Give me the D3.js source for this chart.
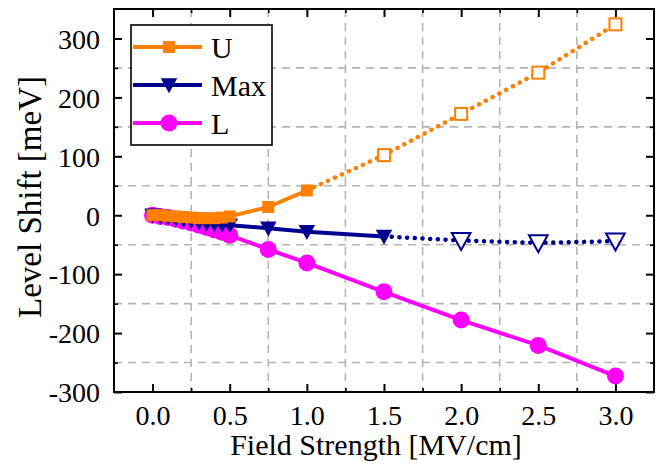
<!DOCTYPE html>
<html>
<head>
<meta charset="utf-8">
<script src="https://cdn.jsdelivr.net/npm/d3@7"></script>
<style>
  html, body { margin: 0; padding: 0; background: #fff; }
  svg { display: block; }
  text { font-family: "Liberation Serif", "Times New Roman", serif; fill: #000; }
</style>
</head>
<body>
<svg id="chart" width="662" height="474"></svg>
<script>
// ---- data ----
const fieldStrength = [0, 0.05, 0.1, 0.15, 0.2, 0.25, 0.3, 0.35, 0.4, 0.45, 0.5, 0.75, 1.0, 1.5, 2.0, 2.5, 3.0];
const uShift   = [0, 0, -1, -2, -3, -4, -5, -5, -5, -4, -2, 14, 42, 102, 172, 242, 324];
const maxShift = [0, -2, -4, -6, -8, -10, -12, -14, -15, -16, -17, -22, -28, -36, -43, -47, -44];
const lShift   = [0, -2, -4, -7, -10, -13, -17, -21, -25, -29, -34, -58, -81, -130, -178, -221, -273];
const seriesNames = ["U", "Max", "L"];
const uSolidUntil = 1.0;    // beyond: dotted, open markers
const maxSolidUntil = 1.5;
const lSolidUntil = 3.0;
const xTickValues = [0, 0.5, 1.0, 1.5, 2.0, 2.5, 3.0];
const xMinorValues = [0.25, 0.75, 1.25, 1.75, 2.25, 2.75];
const yTickValues = [-300, -200, -100, 0, 100, 200, 300];
const yMinorValues = [-250, -150, -50, 50, 150, 250];
const xTitle = "Field Strength [MV/cm]";
const yTitle = "Level Shift [meV]";

// ---- layout ----
const L = 114, R = 654, T = 9, B = 392;
const colors = { U: "#ff7f00", Max: "#000090", L: "#ff00ff" };

const svg = d3.select("#chart");
const x = d3.scaleLinear().domain([-0.25, 3.25]).range([L, R]);
const y = d3.scaleLinear().domain([-300, 350]).range([B, T]);

// grid
const grid = svg.append("g").attr("stroke", "#b4b4b4").attr("stroke-width", 1.6).attr("stroke-dasharray", "8,6");
grid.selectAll("line.v").data(xMinorValues).join("line")
  .attr("x1", d => x(d)).attr("x2", d => x(d)).attr("y1", T).attr("y2", B);
grid.selectAll("line.h").data(yMinorValues).join("line")
  .attr("y1", d => y(d)).attr("y2", d => y(d)).attr("x1", L).attr("x2", R);

// axes (inward ticks on all four sides)
function addAxis(axisFn, scale, transform, vals, minor, fmt) {
  const g = svg.append("g").attr("transform", transform)
    .call(axisFn(scale).tickValues(vals).tickSize(-8).tickFormat(fmt || (() => "")));
  g.select(".domain").remove();
  g.selectAll(".tick line").attr("stroke", "#000").attr("stroke-width", 2);
  const gm = svg.append("g").attr("transform", transform)
    .call(axisFn(scale).tickValues(minor).tickSize(-4).tickFormat(() => ""));
  gm.select(".domain").remove();
  gm.selectAll(".tick line").attr("stroke", "#000").attr("stroke-width", 1.6);
  return g;
}
const fmtX = d => d.toFixed(1);
const fmtY = d => String(d); // plain hyphen-minus
const gx = addAxis(d3.axisBottom, x, `translate(0,${B})`, xTickValues, xMinorValues, fmtX);
gx.selectAll(".tick text").attr("font-size", 28).attr("font-family", "Liberation Serif").attr("y", 0).attr("dy", 33).attr("fill", "#000");
addAxis(d3.axisTop, x, `translate(0,${T})`, xTickValues, xMinorValues, null);
const gy = addAxis(d3.axisLeft, y, `translate(${L},0)`, yTickValues, yMinorValues, fmtY);
gy.selectAll(".tick text").attr("font-size", 28).attr("font-family", "Liberation Serif").attr("x", -14).attr("dy", "0.35em").attr("fill", "#000");
addAxis(d3.axisRight, y, `translate(${R},0)`, yTickValues, yMinorValues, null);

// frame
svg.append("rect").attr("x", L).attr("y", T).attr("width", R - L).attr("height", B - T)
  .attr("fill", "none").attr("stroke", "#000").attr("stroke-width", 2);

// series
const clipId = "plotclip";
svg.append("clipPath").attr("id", clipId).append("rect").attr("x", L).attr("y", T).attr("width", R - L).attr("height", B - T);
const plot = svg.append("g").attr("clip-path", `url(#${clipId})`);
const line = d3.line().x(d => x(d[0])).y(d => y(d[1]));

const tri = (s) => `M${-s*0.55},${-s*0.45}L${s*0.55},${-s*0.45}L0,${s*0.55}Z`;
function drawMarker(g, type, cx, cy, open, color) {
  if (type === "U") {
    const s = open ? 12 : 12;
    g.append("rect").attr("x", cx - s/2).attr("y", cy - s/2).attr("width", s).attr("height", s)
      .attr("fill", open ? "#fff" : color).attr("stroke", color).attr("stroke-width", open ? 2 : 0);
  } else if (type === "Max") {
    g.append("path").attr("d", tri(open ? 17 : 15)).attr("transform", `translate(${cx},${cy})`)
      .attr("fill", open ? "#fff" : color).attr("stroke", color).attr("stroke-width", open ? 2 : 0);
  } else {
    g.append("circle").attr("cx", cx).attr("cy", cy).attr("r", 8.5).attr("fill", color);
  }
}

const series = [
  { name: "L", vals: lShift, until: lSolidUntil },
  { name: "Max", vals: maxShift, until: maxSolidUntil },
  { name: "U", vals: uShift, until: uSolidUntil }
];
series.forEach(s => {
  const pts = fieldStrength.map((f, i) => [f, s.vals[i]]);
  const solid = pts.filter(p => p[0] <= s.until);
  const dotted = pts.filter(p => p[0] >= s.until);
  const g = plot.append("g");
  const c = colors[s.name];
  g.append("path").attr("d", line(solid)).attr("fill", "none").attr("stroke", c)
    .attr("stroke-width", 4).attr("stroke-linejoin", "round");
  if (dotted.length > 1) {
    g.append("path").attr("d", line(dotted)).attr("fill", "none").attr("stroke", c)
      .attr("stroke-width", 4.5).attr("stroke-linecap", "round").attr("stroke-dasharray", "0.1,7.6");
  }
  pts.forEach(p => drawMarker(g, s.name, x(p[0]), y(p[1]), p[0] > s.until, c));
});

// legend
const lg = svg.append("g");
lg.append("rect").attr("x", 131).attr("y", 25).attr("width", 141).attr("height", 120)
  .attr("fill", "#fff").attr("stroke", "#000").attr("stroke-width", 1.6);
seriesNames.forEach((n, i) => {
  const cy = 47 + i * 38;
  lg.append("line").attr("x1", 133).attr("x2", 202).attr("y1", cy).attr("y2", cy)
    .attr("stroke", colors[n]).attr("stroke-width", 4);
  drawMarker(lg, n, 169, cy, false, colors[n]);
  lg.append("text").attr("x", 211).attr("y", cy).attr("dy", "0.35em").attr("font-size", 30).text(n);
});

// axis titles
svg.append("text").attr("x", 376).attr("y", 455).attr("text-anchor", "middle").attr("font-size", 30).text(xTitle);
svg.append("text").attr("transform", "translate(41,197) rotate(-90)").attr("text-anchor", "middle").attr("font-size", 33).text(yTitle);
</script>
</body>
</html>
